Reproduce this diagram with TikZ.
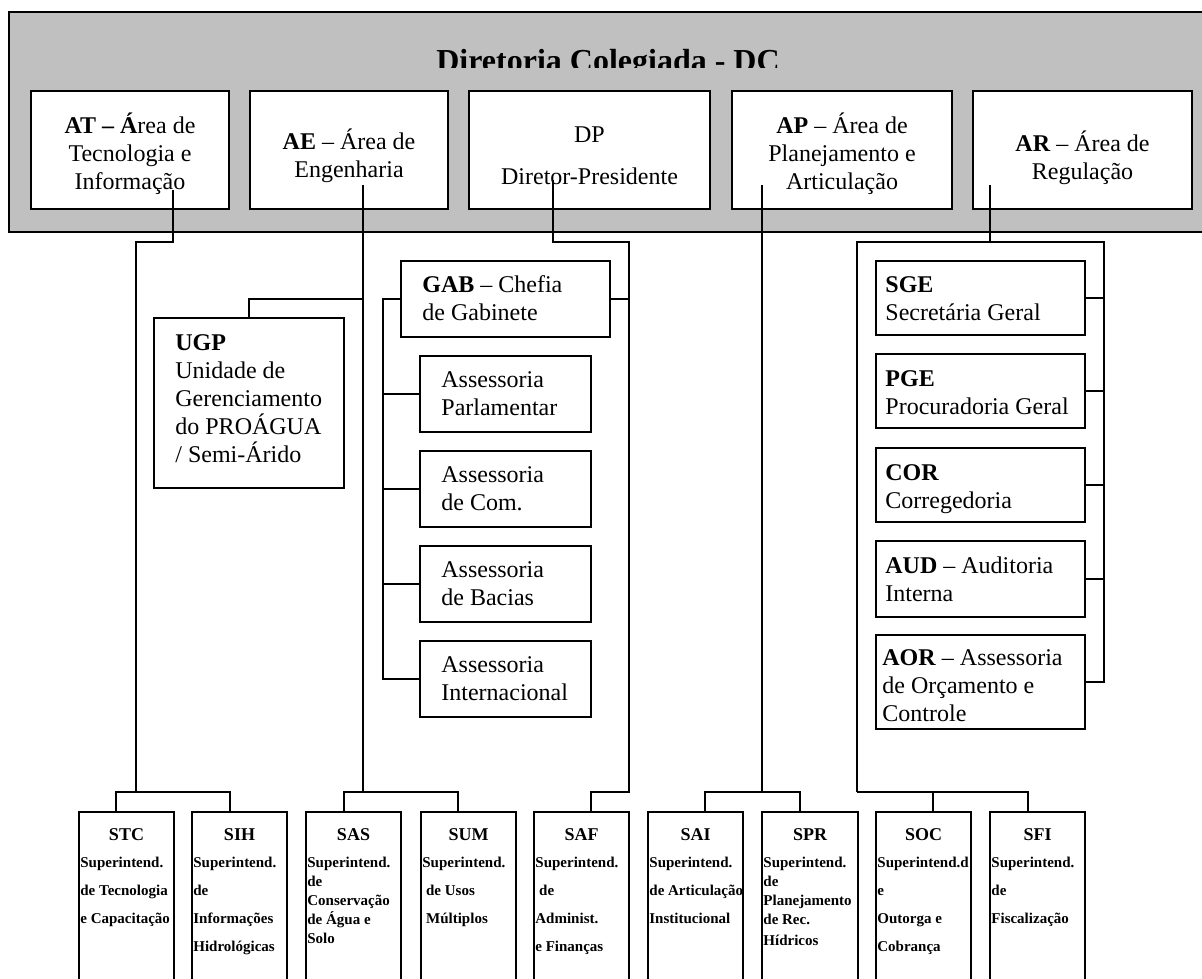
\documentclass[tikz,border=0pt]{standalone}
\usepackage{fontspec}
\setmainfont{Liberation Serif}
\usetikzlibrary{fit}
\begin{document}
\begin{tikzpicture}[x=0.5pt,y=-0.5pt,
  box/.style={draw, line width=1.1pt, fill=white, inner sep=0pt},
  conn/.style={line width=1pt},
  ctxt/.style={font=\fontsize{12}{14}\selectfont, inner sep=0pt, align=center, anchor=base},
  ltxt/.style={font=\fontsize{12}{14}\selectfont, inner sep=0pt, align=left, anchor=base west},
  ttl/.style={font=\fontsize{16}{19}\selectfont\bfseries, inner sep=0pt, anchor=base},
  stitle/.style={font=\fontsize{9}{11}\selectfont\bfseries, inner sep=0pt, anchor=base},
  sbody/.style={font=\fontsize{7.5}{14}\selectfont\bfseries, inner sep=0pt, align=left, anchor=base west},
  sbodyt/.style={font=\fontsize{7.5}{9.5}\selectfont\bfseries, inner sep=0pt, align=left, anchor=base west}]
\useasboundingbox (0,0) rectangle (1202,978);
% gray band
\node[draw, line width=1pt, fill={rgb,255:red,192;green,192;blue,192}, inner sep=0pt, fit={(9,12)(1230,232)}] (dcband) {};
\begin{scope}
\clip (0,0) rectangle (1202,68);
\node[ttl] (dc) at (608,72) {Diretoria Colegiada - DC};
\end{scope}
% top boxes (multi-line nodes are anchored at the baseline of their last line)
\node[box, fit={(31,91)(229,209)}] (at) {};
\node[box, fit={(250,91)(448,209)}] (ae) {};
\node[box, fit={(469,91)(710,209)}] (dp) {};
\node[box, fit={(732,91)(952,209)}] (ap) {};
\node[box, fit={(973,91)(1192,209)}] (ar) {};
\node[ctxt] (atT) at (130,190) {\textbf{AT – Á}rea de\\Tecnologia e\\Informação};
\node[ctxt] (aeT) at (349,178) {\textbf{AE} – Área de\\Engenharia};
\node[ctxt] (dpT) at (589.5,185) {DP\\[7pt]Diretor-Presidente};
\node[ctxt] (apT) at (842,190) {\textbf{AP} – Área de\\Planejamento e\\Articulação};
\node[ctxt] (arT) at (1082.5,180) {\textbf{AR} – Área de\\Regulação};
% middle left
\node[box, fit={(154,318)(344,488)}] (ugp) {};
\node[ltxt] (ugpT) at (175,462) {\textbf{UGP}\\Unidade de\\Gerenciamento\\do PROÁGUA\\/ Semi-Árido};
\node[box, fit={(401,261)(610,337)}] (gab) {};
\node[ltxt] (gabT) at (422,321) {\textbf{GAB} – Chefia\\de Gabinete};
\node[box, fit={(420,356)(591,432)}] (asp) {};
\node[ltxt] (aspT) at (441,415) {Assessoria\\Parlamentar};
\node[box, fit={(420,451)(591,527)}] (asc) {};
\node[ltxt] (ascT) at (441,510) {Assessoria\\de Com.};
\node[box, fit={(420,546)(591,622)}] (asb) {};
\node[ltxt] (asbT) at (441,605) {Assessoria\\de Bacias};
\node[box, fit={(420,641)(591,717)}] (asi) {};
\node[ltxt] (asiT) at (441,700) {Assessoria\\Internacional};
% middle right
\node[box, fit={(876,261)(1085,335)}] (sge) {};
\node[ltxt] (sgeT) at (885,321) {\textbf{SGE}\\Secretária Geral};
\node[box, fit={(876,354)(1085,428)}] (pge) {};
\node[ltxt] (pgeT) at (885,414) {\textbf{PGE}\\Procuradoria Geral};
\node[box, fit={(876,448)(1085,522)}] (cor) {};
\node[ltxt] (corT) at (885,508) {\textbf{COR}\\Corregedoria};
\node[box, fit={(876,541)(1085,617)}] (aud) {};
\node[ltxt] (audT) at (885,601) {\textbf{AUD} – Auditoria\\Interna};
\node[box, fit={(876,635)(1085,729)}] (aor) {};
\node[ltxt] (aorT) at (882,721) {\textbf{AOR} – Assessoria\\de Orçamento e\\Controle};
% bottom boxes
\node[box, fit={(79,812)(174,1010)}] (stc) {};
\node[box, fit={(192,812)(287,1010)}] (sih) {};
\node[box, fit={(306,812)(401,1010)}] (sas) {};
\node[box, fit={(421,812)(516,1010)}] (sum) {};
\node[box, fit={(534,812)(629,1010)}] (saf) {};
\node[box, fit={(648,812)(743,1010)}] (sai) {};
\node[box, fit={(762,812)(858,1010)}] (spr) {};
\node[box, fit={(876,812)(971,1010)}] (soc) {};
\node[box, fit={(990,812)(1085,1010)}] (sfi) {};
\node[stitle] (stcH) at (126.5,840) {STC};
\node[stitle] (sihH) at (239.5,840) {SIH};
\node[stitle] (sasH) at (353.5,840) {SAS};
\node[stitle] (sumH) at (468.5,840) {SUM};
\node[stitle] (safH) at (581.5,840) {SAF};
\node[stitle] (saiH) at (695.5,840) {SAI};
\node[stitle] (sprH) at (810,840) {SPR};
\node[stitle] (socH) at (923.5,840) {SOC};
\node[stitle] (sfiH) at (1037.5,840) {SFI};
\node[sbody] (stcB) at (80,923) {Superintend.\\de Tecnologia\\e Capacitação};
\node[sbody] (sihB) at (193,951) {Superintend.\\de\\Informações\\Hidrológicas};
\node[sbodyt] (sasB) at (307,943) {Superintend.\\de\\Conservação\\de Água e\\Solo};
\node[sbody] (sumB) at (422,923) {Superintend.\\\ de Usos\\\ Múltiplos};
\node[sbody] (safB) at (535,951) {Superintend.\\\ de\\Administ.\\e Finanças};
\node[sbody] (saiB) at (649,923) {Superintend.\\de Articulação\\Institucional};
\node[sbodyt] (sprB) at (763,945) {Superintend.\\de\\Planejamento\\de Rec.\\[1pt]Hídricos};
\node[sbody] (socB) at (877,951) {Superintend.d\\e\\Outorga e\\Cobrança};
\node[sbody] (sfiB) at (991,923) {Superintend.\\de\\Fiscalização};
% connectors: AT
\coordinate (atTap) at (173,190);
\coordinate (atJ) at (136,792);
\draw[conn] (atTap) |- (136,242) -- (atJ);
\draw[conn] (116,0 |- stc.north) |- (230,792) -- (230,0 |- sih.north);
% AE
\coordinate (aeTap) at (363,185);
\draw[conn] (aeTap) -- (363,792);
\draw[conn] (344,0 |- sas.north) |- (458,792) -- (458,0 |- sum.north);
\draw[conn] (363,0 |- 0,299) -| (ugp.north);
% DP
\coordinate (dpTap) at (553,180);
\draw[conn] (dpTap) |- (629,242) -- (629,792) -| (591,0 |- saf.north);
\draw[conn] (gab.east) -- (629,0 |- gab.east);
\draw[conn] (gab.west) -- (383,0 |- gab.west) |- (asi.west);
\draw[conn] (383,0 |- asp.west) -- (asp.west);
\draw[conn] (383,0 |- asc.west) -- (asc.west);
\draw[conn] (383,0 |- asb.west) -- (asb.west);
% AP
\coordinate (apTap) at (762,185);
\draw[conn] (apTap) -- (762,792);
\draw[conn] (705,0 |- sai.north) |- (800,792) -- (800,0 |- spr.north);
% AR
\coordinate (arTap) at (990,185);
\draw[conn] (arTap) -- (990,242);
\draw[conn] (857,792) |- (1104,242) |- (aor.east);
\draw[conn] (sge.east) -- (1104,0 |- sge.east);
\draw[conn] (pge.east) -- (1104,0 |- pge.east);
\draw[conn] (cor.east) -- (1104,0 |- cor.east);
\draw[conn] (aud.east) -- (1104,0 |- aud.east);
\draw[conn] (857,792) -- (1028,792) -- (1028,0 |- sfi.north);
\draw[conn] (933,792) -- (933,0 |- soc.north);
\end{tikzpicture}
\end{document}
